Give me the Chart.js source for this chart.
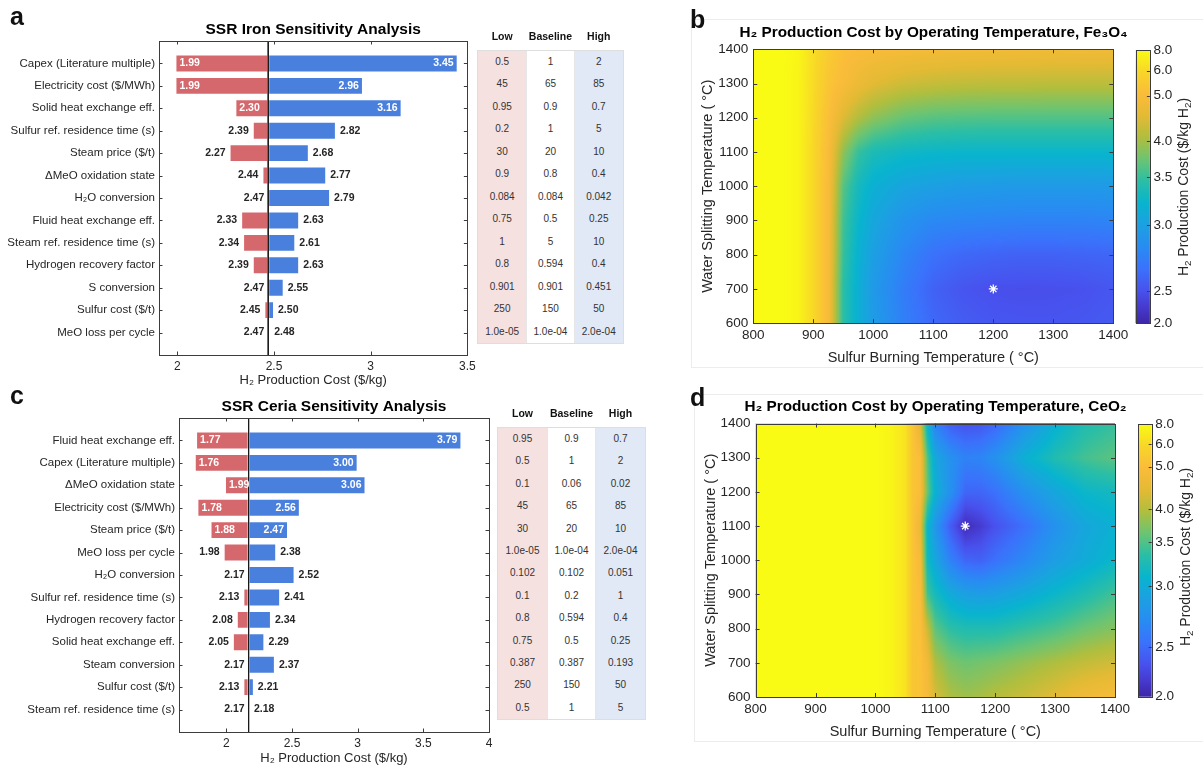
<!DOCTYPE html>
<html>
<head>
<meta charset="utf-8">
<script src="https://cdn.jsdelivr.net/npm/chart.js@4.4.1/dist/chart.umd.min.js"></script>
<style>
  html, body { margin: 0; padding: 0; background: #fff; }
  body { width: 1203px; height: 767px; position: relative; overflow: hidden;
         font-family: "Liberation Sans", Arial, Helvetica, sans-serif; color: #262626; }
  canvas { position: absolute; }
  .letter { position: absolute; font-size: 25px; font-weight: bold; line-height: 25px; color: #111; }
  .frame { position: absolute; border: 1px solid #ececec; }
  .hdr { position: absolute; display: flex; font-size: 10.5px; font-weight: bold; color: #111; line-height: 14px; }
  .hdr div { text-align: center; }
  .tbl { position: absolute; display: flex; border: 1px solid #dedede; }
  .tbl .col { box-sizing: border-box; }
  .tbl .col div { text-align: center; font-size: 10px; color: #333; }
  .low { background: #f6e1e1; }
  .base { background: #fff; border-left: 1px solid #e6e6e6; border-right: 1px solid #e6e6e6; }
  .high { background: #e1e9f6; }
  .cbtitle { position: absolute; white-space: nowrap; font-size: 14px; color: #262626;
             transform: translate(-50%, -50%) rotate(-90deg); }
  .cbtitle sub { font-size: 70%; }
</style>
</head>
<body>
<div class="frame" style="left:691px;top:19px;width:560px;height:347px"></div>
<div class="frame" style="left:694px;top:394px;width:560px;height:346px"></div>

<canvas id="ironChart" width="480" height="392" style="left:0;top:0"></canvas>
<canvas id="ceriaChart" width="500" height="375" style="left:0;top:392px"></canvas>
<canvas id="feMap" width="587" height="370" style="left:640px;top:0"></canvas>
<canvas id="ceMap" width="591" height="375" style="left:640px;top:392px"></canvas>
<canvas id="feBar" width="75" height="310" style="left:1128px;top:30px"></canvas>
<canvas id="ceBar" width="75" height="310" style="left:1128px;top:405px"></canvas>

<div class="letter" style="left:10px;top:4px">a</div>
<div class="letter" style="left:690px;top:7px">b</div>
<div class="letter" style="left:10px;top:383px">c</div>
<div class="letter" style="left:690px;top:385px">d</div>

<div class="cbtitle" style="left:1184px;top:187px">H<sub>2</sub> Production Cost ($/kg H<sub>2</sub>)</div>
<div class="cbtitle" style="left:1186px;top:557px">H<sub>2</sub> Production Cost ($/kg H<sub>2</sub>)</div>

<script>
Chart.defaults.font.family = '"Liberation Sans", Arial, Helvetica, sans-serif';
Chart.defaults.color = '#262626';
Chart.defaults.animation = false;

// SSR iron sensitivity, cost in $/kg at the low / high parameter setting
const ironParams = ['Capex (Literature multiple)', 'Electricity cost ($/MWh)', 'Solid heat exchange eff.',
  'Sulfur ref. residence time (s)', 'Steam price ($/t)', '\u0394MeO oxidation state', 'H\u2082O conversion',
  'Fluid heat exchange eff.', 'Steam ref. residence time (s)', 'Hydrogen recovery factor', 'S conversion',
  'Sulfur cost ($/t)', 'MeO loss per cycle'];
const ironLow  = [1.99, 1.99, 2.30, 2.39, 2.27, 2.44, 2.47, 2.33, 2.34, 2.39, 2.47, 2.45, 2.47];
const ironHigh = [3.45, 2.96, 3.16, 2.82, 2.68, 2.77, 2.79, 2.63, 2.61, 2.63, 2.55, 2.50, 2.48];
const ironBase = 2.47;
const ironSetLow  = ['0.5', '45', '0.95', '0.2', '30', '0.9', '0.084', '0.75', '1', '0.8', '0.901', '250', '1.0e-05'];
const ironSetBase = ['1', '65', '0.9', '1', '20', '0.8', '0.084', '0.5', '5', '0.594', '0.901', '150', '1.0e-04'];
const ironSetHigh = ['2', '85', '0.7', '5', '10', '0.4', '0.042', '0.25', '10', '0.4', '0.451', '50', '2.0e-04'];

// SSR ceria sensitivity
const ceriaParams = ['Fluid heat exchange eff.', 'Capex (Literature multiple)', '\u0394MeO oxidation state',
  'Electricity cost ($/MWh)', 'Steam price ($/t)', 'MeO loss per cycle', 'H\u2082O conversion',
  'Sulfur ref. residence time (s)', 'Hydrogen recovery factor', 'Solid heat exchange eff.', 'Steam conversion',
  'Sulfur cost ($/t)', 'Steam ref. residence time (s)'];
const ceriaLow  = [1.77, 1.76, 1.99, 1.78, 1.88, 1.98, 2.17, 2.13, 2.08, 2.05, 2.17, 2.13, 2.17];
const ceriaHigh = [3.79, 3.00, 3.06, 2.56, 2.47, 2.38, 2.52, 2.41, 2.34, 2.29, 2.37, 2.21, 2.18];
const ceriaBase = 2.17;
const ceriaSetLow  = ['0.95', '0.5', '0.1', '45', '30', '1.0e-05', '0.102', '0.1', '0.8', '0.75', '0.387', '250', '0.5'];
const ceriaSetBase = ['0.9', '1', '0.06', '65', '20', '1.0e-04', '0.102', '0.2', '0.594', '0.5', '0.387', '150', '1'];
const ceriaSetHigh = ['0.7', '2', '0.02', '85', '10', '2.0e-04', '0.051', '1', '0.4', '0.25', '0.193', '50', '5'];

// H2 cost maps ($/kg) on a sulfur burning T (columns) x water splitting T (rows) grid
const feSulfurT = [800, 850, 875, 900, 925, 950, 975, 1000, 1050, 1100, 1150, 1200, 1250, 1300, 1350, 1400];
const feWaterT = [600, 700, 800, 900, 1000, 1100, 1200, 1300, 1400];
const feCost = [
  [8.0, 8.0, 7.6, 6.0, 5.0, 3.45, 3.18, 2.97, 2.76, 2.62, 2.56, 2.53, 2.52, 2.52, 2.53, 2.55],
  [8.0, 8.0, 7.6, 6.0, 5.0, 3.45, 3.17, 2.95, 2.74, 2.59, 2.52, 2.48, 2.47, 2.48, 2.50, 2.53],
  [8.0, 8.0, 7.6, 6.0, 5.0, 3.50, 3.20, 3.00, 2.80, 2.67, 2.62, 2.60, 2.59, 2.59, 2.60, 2.61],
  [8.0, 8.0, 7.6, 6.0, 5.0, 3.55, 3.25, 3.08, 2.90, 2.82, 2.80, 2.79, 2.78, 2.78, 2.78, 2.79],
  [8.0, 8.0, 7.6, 6.0, 5.0, 3.65, 3.33, 3.18, 3.05, 3.00, 2.97, 2.96, 2.95, 2.95, 2.95, 2.96],
  [8.0, 8.0, 7.6, 6.0, 5.05, 3.90, 3.50, 3.37, 3.29, 3.26, 3.25, 3.25, 3.25, 3.25, 3.25, 3.25],
  [8.0, 8.0, 7.6, 6.1, 5.2, 4.50, 4.10, 3.90, 3.72, 3.65, 3.63, 3.62, 3.62, 3.62, 3.62, 3.62],
  [8.0, 8.0, 7.6, 6.2, 5.4, 5.00, 4.75, 4.55, 4.35, 4.27, 4.22, 4.20, 4.20, 4.18, 4.18, 4.18],
  [8.0, 8.0, 7.7, 6.3, 5.6, 5.20, 5.05, 5.00, 4.95, 4.90, 4.88, 4.86, 4.85, 4.84, 4.83, 4.82]
];
const feOptimum = { x: 1200, y: 700 };

const ceSulfurT = [800, 1000, 1025, 1050, 1062, 1075, 1087, 1100, 1125, 1150, 1175, 1200, 1250, 1300, 1350, 1400];
const ceWaterT = [600, 700, 800, 900, 1000, 1100, 1200, 1300, 1400];
const ceCost = [
  [8.0, 8.0, 7.6, 6.6, 5.3, 5.20, 4.86, 4.33, 3.96, 3.88, 3.92, 4.00, 4.20, 4.46, 4.73, 4.92],
  [8.0, 8.0, 7.6, 6.6, 5.3, 5.20, 4.73, 3.96, 3.72, 3.64, 3.68, 3.72, 3.84, 3.96, 4.13, 4.26],
  [8.0, 8.0, 7.6, 6.6, 5.3, 5.09, 4.20, 3.56, 3.36, 3.29, 3.29, 3.29, 3.39, 3.48, 3.64, 3.76],
  [8.0, 8.0, 7.6, 6.6, 5.3, 4.98, 3.45, 3.23, 2.99, 2.90, 2.88, 2.90, 2.99, 3.14, 3.29, 3.45],
  [8.0, 8.0, 7.6, 6.6, 5.3, 4.86, 3.20, 2.95, 2.65, 2.47, 2.44, 2.54, 2.70, 2.88, 2.99, 3.14],
  [8.0, 8.0, 7.6, 6.6, 5.3, 4.59, 3.12, 2.81, 2.41, 2.06, 2.17, 2.33, 2.54, 2.77, 2.95, 3.05],
  [8.0, 8.0, 7.6, 6.6, 5.3, 4.98, 3.64, 3.05, 2.77, 2.47, 2.47, 2.54, 2.77, 2.95, 3.14, 3.20],
  [8.0, 8.0, 7.6, 6.6, 5.3, 4.98, 3.50, 2.95, 2.77, 2.65, 2.67, 2.77, 3.05, 3.29, 3.45, 3.56],
  [8.0, 8.0, 7.6, 6.6, 5.3, 4.40, 3.10, 2.65, 2.41, 2.33, 2.36, 2.47, 2.77, 3.05, 3.29, 3.39]
];
const ceOptimum = { x: 1150, y: 1100 };

// colorbar labels and where each sits along the colormap (0 = bottom, 1 = top)
const cbTicks = [2.0, 2.5, 3.0, 3.5, 4.0, 5.0, 6.0, 8.0];
const feCbLevels = [0, 0.117, 0.358, 0.536, 0.667, 0.833, 0.924, 1];
const ceCbLevels = [0, 0.181, 0.407, 0.567, 0.689, 0.845, 0.927, 1];

const RED = 'rgb(213,104,108)';
const BLUE = 'rgb(74,128,221)';
const EDGE = 'rgba(255,255,255,0.4)';

// parula-like colormap
const parulaStops = [
  [0.00, 62, 38, 168], [0.06, 70, 58, 207], [0.12, 72, 82, 238], [0.20, 58, 114, 252],
  [0.28, 40, 140, 242], [0.36, 28, 160, 226], [0.44, 8, 180, 206], [0.52, 42, 190, 166],
  [0.60, 108, 196, 114], [0.68, 176, 190, 62], [0.76, 228, 186, 52], [0.84, 250, 188, 58],
  [0.92, 248, 214, 40], [1.00, 249, 251, 20]
];

function parula(f) {
  f = Math.max(0, Math.min(1, f));
  for (let k = 1; k < parulaStops.length; k++) {
    const b = parulaStops[k];
    if (f <= b[0]) {
      const a = parulaStops[k - 1];
      const t = (f - a[0]) / (b[0] - a[0]);
      return [a[1] + t * (b[1] - a[1]), a[2] + t * (b[2] - a[2]), a[3] + t * (b[3] - a[3])];
    }
  }
  const l = parulaStops[parulaStops.length - 1];
  return [l[1], l[2], l[3]];
}

function costToLevel(v, levels) {
  if (v <= cbTicks[0]) return levels[0];
  for (let k = 1; k < cbTicks.length; k++) {
    if (v <= cbTicks[k]) {
      const t = (v - cbTicks[k - 1]) / (cbTicks[k] - cbTicks[k - 1]);
      return levels[k - 1] + t * (levels[k] - levels[k - 1]);
    }
  }
  return levels[levels.length - 1];
}

// find segment of a monotonic pixel list that holds p
function locate(arr, p) {
  for (let i = 0; i < arr.length - 1; i++) {
    const a = arr[i], b = arr[i + 1];
    if ((p - a) * (p - b) <= 0) return [i, (p - a) / (b - a)];
  }
  const first = Math.abs(p - arr[0]) < Math.abs(p - arr[arr.length - 1]);
  return first ? [0, 0] : [arr.length - 2, 1];
}

// box with inward ticks, like matlab axes
const axesBox = {
  id: 'axesBox',
  afterDatasetsDraw(chart, args, opts) {
    const { ctx, chartArea: a } = chart;
    const len = opts.tickLength || 3.5;
    ctx.save();
    ctx.strokeStyle = '#3c3c3c';
    ctx.lineWidth = 1;
    ctx.beginPath();
    const xs = chart.scales.x;
    if (xs && xs.options.display !== false) {
      xs.ticks.forEach(t => {
        const p = Math.round(xs.getPixelForValue(t.value)) + 0.5;
        if (p - a.left < 2 || a.right - p < 2) return;
        ctx.moveTo(p, a.bottom); ctx.lineTo(p, a.bottom - len);
        ctx.moveTo(p, a.top); ctx.lineTo(p, a.top + len);
      });
    }
    const ys = chart.scales.y;
    ys.ticks.forEach(t => {
      const p = Math.round(ys.getPixelForValue(t.value)) + 0.5;
      if (p - a.top < 2 || a.bottom - p < 2) return;
      if (!opts.rightOnly) { ctx.moveTo(a.left, p); ctx.lineTo(a.left + len, p); }
      ctx.moveTo(a.right, p); ctx.lineTo(a.right - len, p);
    });
    ctx.stroke();
    const l = Math.round(a.left) + 0.5, tp = Math.round(a.top) + 0.5;
    ctx.strokeRect(l, tp, Math.round(a.right) - Math.round(a.left), Math.round(a.bottom) - Math.round(a.top));
    ctx.restore();
  }
};

// value labels at the ends of the tornado bars
const barValues = {
  id: 'barValues',
  afterDatasetsDraw(chart, args, opts) {
    const { ctx } = chart;
    const xs = chart.scales.x;
    const meta = chart.getDatasetMeta(0);
    ctx.save();
    ctx.font = 'bold 10.5px "Liberation Sans", Arial, sans-serif';
    ctx.textBaseline = 'middle';
    opts.low.forEach((lo, i) => {
      const hi = opts.high[i];
      const y = meta.data[i].y;
      const inside = hi - lo > opts.insideSpan;
      const pl = xs.getPixelForValue(lo), ph = xs.getPixelForValue(hi);
      ctx.fillStyle = inside ? '#fff' : '#262626';
      ctx.textAlign = inside ? 'left' : 'right';
      ctx.fillText(lo.toFixed(2), inside ? pl + 4 : pl - 4, y);
      ctx.textAlign = inside ? 'right' : 'left';
      ctx.fillText(hi.toFixed(2), inside ? ph - 4 : ph + 4, y);
    });
    ctx.restore();
  }
};

// smooth shading of the cost grid between its nodes
const heatShade = {
  id: 'heatShade',
  beforeDatasetsDraw(chart, args, opts) {
    const meta = chart.getDatasetMeta(0);
    const pts = chart.data.datasets[0].data;
    const nx = opts.nx, ny = pts.length / nx;
    const colPx = [], rowPx = [];
    for (let i = 0; i < nx; i++) colPx.push(meta.data[i].x);
    for (let j = 0; j < ny; j++) rowPx.push(meta.data[j * nx].y);
    const lev = pts.map(p => costToLevel(p.v, opts.levels));
    const a = chart.chartArea;
    const x0 = Math.floor(a.left), y0 = Math.floor(a.top);
    const w = Math.ceil(a.right) - x0, h = Math.ceil(a.bottom) - y0;
    const off = document.createElement('canvas');
    off.width = w; off.height = h;
    const octx = off.getContext('2d');
    const img = octx.createImageData(w, h);
    const cols = [];
    for (let px = 0; px < w; px++) cols.push(locate(colPx, x0 + px + 0.5));
    for (let py = 0; py < h; py++) {
      const [j, ty] = locate(rowPx, y0 + py + 0.5);
      for (let px = 0; px < w; px++) {
        const [i, tx] = cols[px];
        const f00 = lev[j * nx + i], f10 = lev[j * nx + i + 1];
        const f01 = lev[(j + 1) * nx + i], f11 = lev[(j + 1) * nx + i + 1];
        const f = (f00 * (1 - tx) + f10 * tx) * (1 - ty) + (f01 * (1 - tx) + f11 * tx) * ty;
        const c = parula(f);
        const o = (py * w + px) * 4;
        img.data[o] = c[0]; img.data[o + 1] = c[1]; img.data[o + 2] = c[2]; img.data[o + 3] = 255;
      }
    }
    octx.putImageData(img, 0, 0);
    chart.ctx.drawImage(off, x0, y0);
  }
};

function tornado(id, cfg) {
  const n = cfg.params.length;
  return new Chart(document.getElementById(id), {
    type: 'bar',
    data: {
      datasets: [
        { label: 'Low', data: cfg.low.map((v, i) => ({ x: [cfg.base, v], y: i + 1 })),
          backgroundColor: RED, borderColor: EDGE, borderWidth: 1, borderSkipped: false },
        { label: 'High', data: cfg.high.map((v, i) => ({ x: [cfg.base, v], y: i + 1 })),
          backgroundColor: BLUE, borderColor: EDGE, borderWidth: 1, borderSkipped: false },
        { type: 'line', label: 'Baseline', data: [{ x: cfg.base, y: 0 }, { x: cfg.base, y: n + 1 }],
          borderColor: '#1a1a1a', borderWidth: 1, pointRadius: 0, order: -1 }
      ]
    },
    options: {
      indexAxis: 'y',
      responsive: false,
      events: [],
      layout: { padding: { right: cfg.padRight } },
      datasets: { bar: { grouped: false, barPercentage: 0.8, categoryPercentage: 1 } },
      plugins: {
        legend: { display: false },
        tooltip: { enabled: false },
        title: { display: true, text: cfg.title, fullSize: false, color: '#000',
                 font: { size: 15.5, weight: 'bold' }, padding: { top: cfg.titleTop, bottom: cfg.titleBottom } },
        barValues: { low: cfg.low, high: cfg.high, insideSpan: 0.5 },
        axesBox: { tickLength: 3.5 }
      },
      scales: {
        x: {
          type: 'linear', min: cfg.xMin, max: cfg.xMax,
          grid: { display: false, drawTicks: false }, border: { display: false },
          ticks: { stepSize: 0.5, includeBounds: false, padding: 4.3, font: { size: 12 }, callback: v => String(v) },
          title: { display: true, text: 'H\u2082 Production Cost ($/kg)', font: { size: 13 },
                   padding: { top: 0, bottom: cfg.xTitlePad } },
          afterFit: s => { s.height = cfg.xAxisH; }
        },
        y: {
          type: 'linear', min: 0, max: n + 1, reverse: true, offset: false,
          grid: { display: false, drawTicks: false }, border: { display: false },
          ticks: { stepSize: 1, autoSkip: false, padding: 4, font: { size: 11.5 },
                   callback: v => cfg.params[v - 1] || '' },
          afterFit: s => { s.width = cfg.yAxisW; }
        }
      }
    },
    plugins: [barValues, axesBox]
  });
}

// the canvas is wide enough that its centre sits over the plot; an empty right
// axis holds the spare width so the full-width title stays centred on the axes
function heatMap(id, cfg) {
  const nodes = [];
  cfg.waterT.forEach((yv, j) => cfg.sulfurT.forEach((xv, i) => nodes.push({ x: xv, y: yv, v: cfg.cost[j][i] })));
  return new Chart(document.getElementById(id), {
    type: 'scatter',
    data: {
      datasets: [
        { label: 'cost', data: nodes, pointRadius: 0 },
        { label: 'optimum', data: [cfg.optimum], pointStyle: 'star', pointRadius: 4.5,
          borderColor: '#fff', backgroundColor: '#fff', borderWidth: 1.3 }
      ]
    },
    options: {
      responsive: false,
      events: [],
      plugins: {
        legend: { display: false },
        tooltip: { enabled: false },
        title: { display: true, text: cfg.title, color: '#000',
                 font: { size: 15.3, weight: 'bold' }, padding: { top: cfg.titleTop, bottom: cfg.titleBottom } },
        heatShade: { nx: cfg.sulfurT.length, levels: cfg.levels },
        axesBox: { tickLength: 4 }
      },
      scales: {
        x: {
          type: 'linear', min: 800, max: 1400,
          grid: { display: false, drawTicks: false }, border: { display: false },
          ticks: { stepSize: 100, padding: cfg.xTickPad, font: { size: 13.5 }, callback: v => String(v) },
          title: { display: true, text: 'Sulfur Burning Temperature ( \u00b0C)', font: { size: 14.5 },
                   padding: { top: 0, bottom: cfg.xTitlePad } },
          afterFit: s => { s.height = cfg.xAxisH; }
        },
        y: {
          type: 'linear', min: 600, max: 1400,
          grid: { display: false, drawTicks: false }, border: { display: false },
          ticks: { stepSize: 100, padding: 5, font: { size: 13.5 }, callback: v => String(v) },
          title: { display: true, text: 'Water Splitting Temperature ( \u00b0C)', font: { size: 14.5 },
                   padding: { top: cfg.yTitlePad, bottom: 0 } },
          afterFit: s => { s.width = cfg.yAxisW; }
        },
        spare: {
          type: 'linear', position: 'right', min: 0, max: 1,
          grid: { display: false, drawTicks: false }, border: { display: false },
          ticks: { display: false },
          afterFit: s => { s.width = cfg.padRight; }
        }
      }
    },
    plugins: [heatShade, axesBox]
  });
}

function colorBar(id, cfg) {
  return new Chart(document.getElementById(id), {
    type: 'bar',
    data: {
      labels: [''],
      datasets: [{
        data: [[0, 1]],
        borderWidth: 0,
        barPercentage: 1,
        categoryPercentage: 1,
        backgroundColor: c => {
          const area = c.chart.chartArea;
          if (!area) return null;
          const g = c.chart.ctx.createLinearGradient(0, area.bottom, 0, area.top);
          parulaStops.forEach(s => g.addColorStop(s[0], `rgb(${s[1]},${s[2]},${s[3]})`));
          return g;
        }
      }]
    },
    options: {
      responsive: false,
      events: [],
      layout: { padding: { left: cfg.padLeft, top: cfg.padTop, bottom: cfg.padBottom } },
      plugins: { legend: { display: false }, tooltip: { enabled: false }, axesBox: { tickLength: 3, rightOnly: true } },
      scales: {
        x: { display: false },
        y: {
          position: 'right', min: 0, max: 1,
          grid: { display: false, drawTicks: false }, border: { display: false },
          afterBuildTicks: s => { s.ticks = cfg.levels.map(v => ({ value: v })); },
          ticks: { padding: 3.6, font: { size: 13.5 }, callback: (v, i) => cbTicks[i].toFixed(1) },
          afterFit: s => { s.width = cfg.axisW; }
        }
      }
    },
    plugins: [axesBox]
  });
}

function paramTable(left, top, colW, rowH, cols) {
  const hdr = document.createElement('div');
  hdr.className = 'hdr';
  hdr.style.left = (left + 1) + 'px';
  hdr.style.top = (top - 21) + 'px';
  ['Low', 'Baseline', 'High'].forEach(h => {
    const d = document.createElement('div');
    d.style.width = colW + 'px';
    d.textContent = h;
    hdr.appendChild(d);
  });
  document.body.appendChild(hdr);

  const tbl = document.createElement('div');
  tbl.className = 'tbl';
  tbl.style.left = left + 'px';
  tbl.style.top = top + 'px';
  cols.forEach((vals, k) => {
    const c = document.createElement('div');
    c.className = 'col ' + ['low', 'base', 'high'][k];
    c.style.width = colW + 'px';
    vals.forEach(v => {
      const r = document.createElement('div');
      r.style.height = rowH + 'px';
      r.style.lineHeight = rowH + 'px';
      r.textContent = v;
      c.appendChild(r);
    });
    tbl.appendChild(c);
  });
  document.body.appendChild(tbl);
}

tornado('ironChart', {
  title: 'SSR Iron Sensitivity Analysis', params: ironParams, low: ironLow, high: ironHigh, base: ironBase,
  xMin: 1.905, xMax: 3.5, yAxisW: 159, xAxisH: 37, padRight: 11.7,
  titleTop: 20.7, titleBottom: 1.7, xTitlePad: 4.2
});
tornado('ceriaChart', {
  title: 'SSR Ceria Sensitivity Analysis', params: ceriaParams, low: ceriaLow, high: ceriaHigh, base: ceriaBase,
  xMin: 1.64, xMax: 4, yAxisW: 179, xAxisH: 35, padRight: 11,
  titleTop: 5.7, titleBottom: 1.7, xTitlePad: 1.2
});

heatMap('feMap', {
  title: 'H\u2082 Production Cost by Operating Temperature, Fe\u2083O\u2084',
  sulfurT: feSulfurT, waterT: feWaterT, cost: feCost, optimum: feOptimum, levels: feCbLevels,
  yAxisW: 113.3, xAxisH: 46.8, padRight: 113.7, titleTop: 23.9, titleBottom: 7,
  xTickPad: 3.7, xTitlePad: 3, yTitlePad: 59.5
});
heatMap('ceMap', {
  title: 'H\u2082 Production Cost by Operating Temperature, CeO\u2082',
  sulfurT: ceSulfurT, waterT: ceWaterT, cost: ceCost, optimum: ceOptimum, levels: ceCbLevels,
  yAxisW: 115.6, xAxisH: 70, padRight: 116, titleTop: 5.3, titleBottom: 7.9,
  xTickPad: 4.2, xTitlePad: 26.6, yTitlePad: 62
});

colorBar('feBar', { levels: feCbLevels, padLeft: 7.5, padTop: 20, padBottom: 16.7, axisW: 53.1 });
colorBar('ceBar', { levels: ceCbLevels, padLeft: 10.4, padTop: 19.3, padBottom: 18.3, axisW: 51.3 });

paramTable(477, 49.5, 48.3, 22.5, [ironSetLow, ironSetBase, ironSetHigh]);
paramTable(497, 427, 49, 22.42, [ceriaSetLow, ceriaSetBase, ceriaSetHigh]);
</script>
</body>
</html>
